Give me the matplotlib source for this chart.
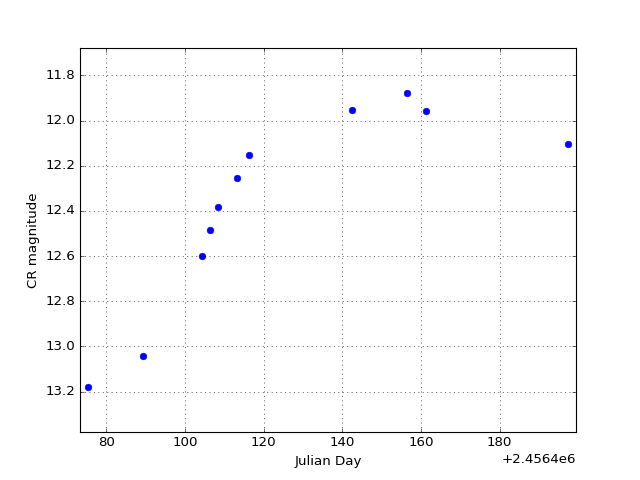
import matplotlib
matplotlib.use('Agg')
import matplotlib.pyplot as plt

plt.style.use('classic')

# Julian days and CR magnitudes
jd = [2456475.3, 2456489.3, 2456504.4, 2456506.4, 2456508.4, 2456513.3,
      2456516.35, 2456542.4, 2456556.4, 2456561.3, 2456597.4]
mag = [13.179, 13.041, 12.599, 12.484, 12.385, 12.256,
       12.154, 11.953, 11.879, 11.956, 12.106]

fig = plt.figure(figsize=(8, 6), dpi=80)
ax = fig.add_subplot(111)
ax.plot(jd, mag, 'o', color='#0000ff', mec='#0000ff', markersize=6)

ax.set_xlim(min(jd) - 2, max(jd) + 2)
ax.set_ylim(max(mag) + 0.2, min(mag) - 0.2)
ax.ticklabel_format(axis='x', useOffset=2456400)
ax.grid(True)

ax.set_xlabel('Julian Day')
ax.set_ylabel('CR magnitude')

fig.savefig('out.png', dpi=80)
